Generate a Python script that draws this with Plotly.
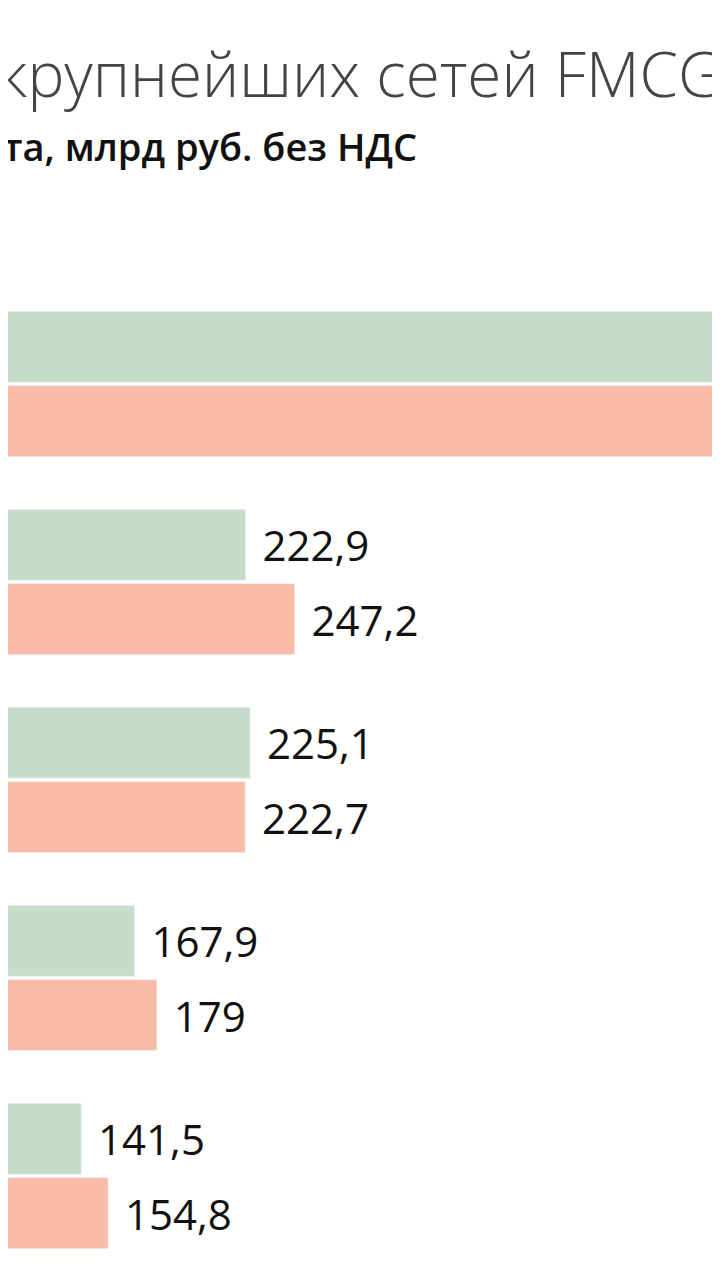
import plotly.graph_objects as go

categories = ["Сеть 1", "Сеть 2", "Сеть 3", "Сеть 4", "Сеть 5"]
series_names = ["2015", "2016"]
values_2015 = [459.0, 222.9, 225.1, 167.9, 141.5]
values_2016 = [520.0, 247.2, 222.7, 179, 154.8]

def fmt(v):
    s = ("%g" % v).replace(".", ",")
    return "\u2009\u2009" + s

lab_font = dict(size=42, color="#111", family="Open Sans")
fig = go.Figure()
fig.add_trace(go.Bar(y=categories, x=values_2015, name=series_names[0], orientation="h",
                     marker_color="#c7ddc9", text=[fmt(v) for v in values_2015],
                     textposition="outside", cliponaxis=True, textfont=lab_font))
fig.add_trace(go.Bar(y=categories, x=values_2016, name=series_names[1], orientation="h",
                     marker_color="#f8bba6", text=[fmt(v) for v in values_2016],
                     textposition="outside", cliponaxis=True, textfont=lab_font))

fig.update_layout(
    width=720, height=1280, barmode="group", bargap=0.25, bargroupgap=0.05,
    margin=dict(l=0, r=0, t=277, b=13),
    paper_bgcolor="#fffffd", plot_bgcolor="#fffffd", showlegend=False,
    xaxis=dict(range=[105.3, 461.8], visible=False, showgrid=False),
    yaxis=dict(autorange="reversed", visible=False, showgrid=False),
    uniformtext=dict(mode=False),
)
fig.add_annotation(text="крупнейших сетей FMCG", xref="paper", yref="paper", x=-0.015, y=1,
                   yshift=277 - 65, xanchor="left", yanchor="middle", showarrow=False,
                   font=dict(size=62, color="#444", family="Open Sans", weight=300))
fig.add_annotation(text="та, млрд руб. без НДС", xref="paper", yref="paper", x=-0.01, y=1,
                   yshift=277 - 138, xanchor="left", yanchor="middle", showarrow=False,
                   font=dict(size=38, color="#111", family="Open Sans", weight=600))
fig.write_html("out.html")
